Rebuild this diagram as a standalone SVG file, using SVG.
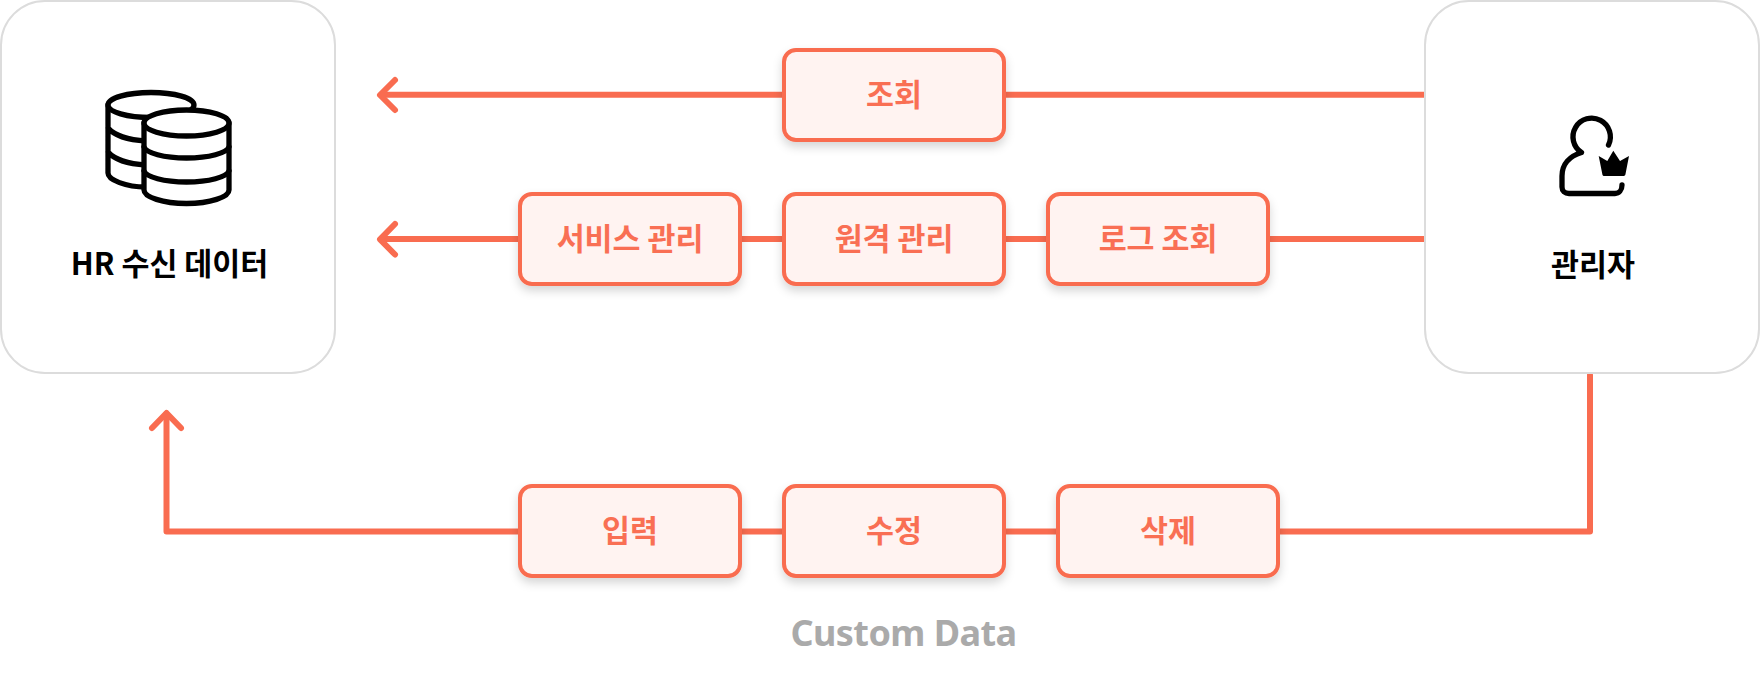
<svg xmlns="http://www.w3.org/2000/svg" width="1760" height="682" viewBox="0 0 1760 682">
<style>
.panel{fill:#fff;stroke:#dcdcdc;stroke-width:2}
.box{fill:#fff3f1;stroke:#f96c50;stroke-width:4;filter:url(#sh)}
.lbl{font-family:"Noto Sans CJK KR","Noto Sans",sans-serif;font-weight:700;font-size:30.400px;text-anchor:middle}
.o{fill:#f96f54}
.k{fill:#000}
.con{fill:none;stroke:#f96c50;stroke-width:6;stroke-linecap:round;stroke-linejoin:round}
.ic{fill:#fff;stroke:#000;stroke-width:5.300;stroke-linecap:round;stroke-linejoin:round}
.icn{fill:none;stroke:#000;stroke-width:5.300;stroke-linecap:round;stroke-linejoin:round}
</style>
<defs>
<filter id="sh" x="-15%" y="-20%" width="130%" height="160%"><feDropShadow dx="0" dy="5" stdDeviation="5" flood-color="#000" flood-opacity="0.16"/></filter>
</defs>
<g id="connectors">
<path class="con" style="stroke-linecap:butt" d="M1425 94.700H382"/>
<path class="con" d="M395 80L380 95L395 110"/>
<path class="con" style="stroke-linecap:butt" d="M1425 239H382"/>
<path class="con" d="M395 224L380 239.300L395 254.500"/>
<path class="con" d="M1590 375V531.500H166.500V414"/>
<path class="con" d="M152 428L166.500 413L181 428"/>
</g>
<g id="hr-data">
<rect class="panel" x="1" y="1" width="334" height="372" rx="44"/>
<g id="db-icon">
<path class="icn" d="M108 105V173C108 180 126 187 146 187M108 128C114 135 128 140 146 141M108 152C114 159 128 164 146 165"/>
<ellipse class="ic" cx="151" cy="105" rx="43" ry="12.500"/>
<path class="ic" d="M144 123V190C144 197 163 203.500 186.500 203.500C210 203.500 229 197 229 190V123Z"/>
<ellipse class="ic" cx="186.500" cy="123" rx="42.500" ry="13"/>
<path class="icn" d="M144 147C146 153 164 158 186.500 158C209 158 227 153 229 147M144 171C146 177 164 182 186.500 182C209 182 227 177 229 171"/>
</g>
<text class="lbl k" x="169.500" y="275">HR 수신 데이터</text>
</g>
<g id="admin">
<rect class="panel" x="1425" y="1" width="334" height="372" rx="44"/>
<g id="admin-icon">
<path class="icn" d="M1608.500 145A18.700 18.700 0 1 0 1581.500 152.500C1570 156 1562 164 1562 176V187C1562 191 1565 193.500 1569 193.500H1615C1619 193.500 1622 190 1622 185"/>
<path class="k" d="M1598.700 156L1607.300 161L1613.300 150.700L1620 161L1629 156L1625.500 174C1625.300 175.500 1624.500 176 1623 176H1604.500C1603 176 1602.500 175.500 1602.300 174Z"/>
</g>
<text class="lbl k" x="1593" y="276">관리자</text>
</g>
<g id="n-view"><rect class="box" x="784" y="50" width="220" height="90" rx="12"/><text class="lbl o" x="894" y="106">조회</text></g>
<g id="n-service"><rect class="box" x="520" y="194" width="220" height="90" rx="12"/><text class="lbl o" x="630" y="250">서비스 관리</text></g>
<g id="n-remote"><rect class="box" x="784" y="194" width="220" height="90" rx="12"/><text class="lbl o" x="894" y="250">원격 관리</text></g>
<g id="n-log"><rect class="box" x="1048" y="194" width="220" height="90" rx="12"/><text class="lbl o" x="1158" y="250">로그 조회</text></g>
<g id="n-input"><rect class="box" x="520" y="486" width="220" height="90" rx="12"/><text class="lbl o" x="630" y="542">입력</text></g>
<g id="n-edit"><rect class="box" x="784" y="486" width="220" height="90" rx="12"/><text class="lbl o" x="894" y="542">수정</text></g>
<g id="n-delete"><rect class="box" x="1058" y="486" width="220" height="90" rx="12"/><text class="lbl o" x="1168" y="542">삭제</text></g>
<text id="caption" x="903.500" y="646" style="font-family:'Noto Sans',sans-serif;font-weight:700;font-size:36px;letter-spacing:-0.550px;text-anchor:middle;fill:#aaa">Custom Data</text>
</svg>
